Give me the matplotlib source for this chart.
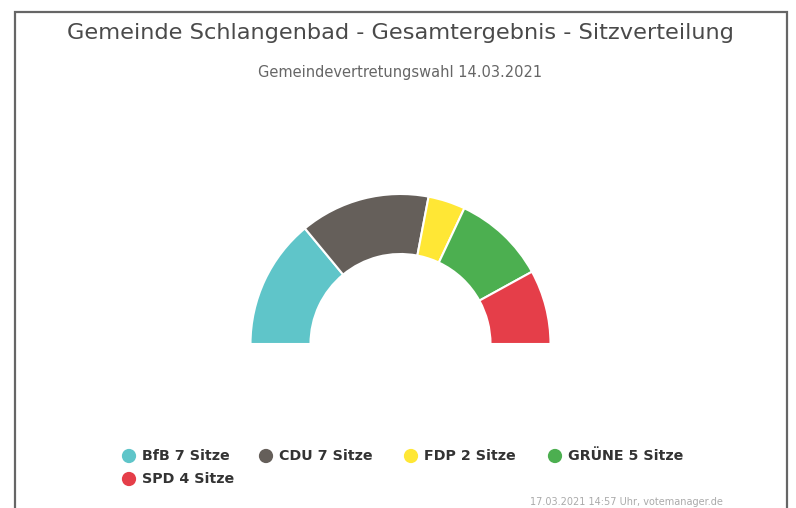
import matplotlib
matplotlib.use("Agg")
import matplotlib.pyplot as plt

# data
parties = ["BfB", "CDU", "FDP", "GRÜNE", "SPD"]
seats = [7, 7, 2, 5, 4]
colors = ["#5fc5c9", "#655f5a", "#ffe735", "#4caf50", "#e53e49"]

title = "Gemeinde Schlangenbad - Gesamtergebnis - Sitzverteilung"
subtitle = "Gemeindevertretungswahl 14.03.2021"
footer = "17.03.2021 14:57 Uhr, votemanager.de"

W, H = 796, 508
plt.rcParams["font.family"] = ["DejaVu Sans"]

fig = plt.figure(figsize=(W / 100, H / 100), dpi=100)
ax = fig.add_axes([0, 0, 1, 1])

# half donut: seats on top, invisible filler on the bottom
total = sum(seats)
wedges, _ = ax.pie(seats + [total], colors=colors + ["none"],
                   startangle=180, counterclock=False,
                   center=(400.5, H - 344), radius=150,
                   wedgeprops=dict(width=60, edgecolor="white", linewidth=1.5))
wedges[-1].set_edgecolor("none")

# frame of the chart box
ax.plot([14.5, 14.5, 786.5, 786.5], [0, H - 11.5, H - 11.5, 0],
        color="#666666", lw=1.6, solid_joinstyle="miter")

ax.text(400, H - 33, title, ha="center", va="center", fontsize=16.2, color="#4a4a4a")
ax.text(400, H - 72, subtitle, ha="center", va="center", fontsize=10.5, color="#666666")

# legend, highcharts-like (4 per row)
leg_x = [129, 266, 411, 555]
leg_y = [H - 456, H - 479]
for i, (p, s, c) in enumerate(zip(parties, seats, colors)):
    x = leg_x[i % 4]
    y = leg_y[i // 4]
    ax.scatter([x], [y], s=105, color=c, edgecolors="none")
    ax.text(x + 13, y, f"{p} {s} Sitze", ha="left", va="center",
            fontsize=10.3, fontweight="bold", color="#333333")

ax.text(530, 1, footer, ha="left", va="bottom", fontsize=7, color="#aaaaaa")

ax.set_xlim(0, W)
ax.set_ylim(0, H)
ax.set_aspect("equal")
ax.axis("off")

fig.savefig("out.png", dpi=100)
